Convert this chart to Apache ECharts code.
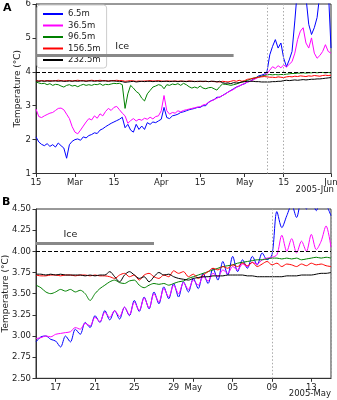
<!DOCTYPE html>
<html lang="en">
<head>
  <meta charset="UTF-8">
  <title>Temperature 2005</title>
  <script src="https://cdn.jsdelivr.net/npm/echarts@6/dist/echarts.min.js"></script>
  <style>
    html, body { margin: 0; padding: 0; background: #fff; }
    #container { width: 337px; height: 400px; }
  </style>
</head>
<body>
  <div id="container"></div>
  <script>
    // panel A: daily values, 2005-02-15 .. 2005-06-01
    const blueA = [2.08, 1.93, 1.86, 1.82, 1.88, 1.80, 1.85, 1.78, 1.90, 1.82,
      1.75, 1.45, 1.85, 1.95, 2.00, 2.02, 1.98, 2.08, 2.05, 2.12,
      2.15, 2.20, 2.18, 2.28, 2.32, 2.38, 2.43, 2.48, 2.52, 2.56,
      2.60, 2.66, 2.35, 2.45, 2.28, 2.22, 2.45, 2.30, 2.40, 2.30,
      2.50, 2.45, 2.52, 2.50, 2.55, 2.60, 2.95, 2.65, 2.62, 2.70,
      2.72, 2.75, 2.80, 2.82, 2.85, 2.88, 2.90, 2.92, 2.95, 2.95,
      3.00, 3.00, 3.10, 3.15, 3.18, 3.25, 3.25, 3.30, 3.35, 3.40,
      3.45, 3.50, 3.55, 3.58, 3.62, 3.65, 3.70, 3.72, 3.78, 3.82,
      3.88, 3.90, 3.93, 4.00, 4.50, 4.75, 4.95, 4.70, 4.85, 4.40,
      4.15, 4.35, 4.60, 5.50, 6.50, 6.90, 6.60, 6.20, 5.40, 5.10,
      5.30, 5.60, 6.30, 6.60, 6.10, 6.50, 4.70];
    const magentaA = [2.90, 2.68, 2.65, 2.70, 2.74, 2.78, 2.80, 2.86, 2.92, 2.93,
      2.88, 2.75, 2.62, 2.38, 2.22, 2.17, 2.28, 2.40, 2.52, 2.62,
      2.58, 2.70, 2.63, 2.76, 2.70, 2.83, 2.92, 2.86, 2.95, 2.98,
      2.88, 2.78, 2.70, 2.48, 2.56, 2.62, 2.55, 2.60, 2.57, 2.63,
      2.60, 2.66, 2.61, 2.68, 2.70, 2.85, 3.30, 2.85, 2.75, 2.80,
      2.78, 2.85, 2.82, 2.86, 2.88, 2.90, 2.92, 2.94, 2.96, 2.97,
      3.02, 3.04, 3.10, 3.14, 3.18, 3.22, 3.26, 3.30, 3.34, 3.40,
      3.44, 3.48, 3.54, 3.58, 3.62, 3.66, 3.70, 3.72, 3.76, 3.80,
      3.84, 3.87, 3.90, 3.94, 4.05, 4.15, 4.10, 4.18, 4.12, 4.20,
      4.14, 4.22, 4.30, 4.55, 4.95, 5.20, 5.30, 4.85, 4.70, 5.00,
      4.55, 4.40, 4.48, 4.60, 4.80, 4.60, 4.55];
    const greenA = [3.70, 3.67, 3.65, 3.66, 3.62, 3.65, 3.60, 3.63, 3.62, 3.58,
      3.55, 3.60, 3.62, 3.58, 3.60, 3.56, 3.60, 3.63, 3.60, 3.62,
      3.60, 3.63, 3.62, 3.65, 3.60, 3.63, 3.62, 3.64, 3.66, 3.65,
      3.66, 3.62, 2.92, 3.35, 3.60, 3.52, 3.42, 3.36, 3.22, 3.14,
      3.35, 3.45, 3.55, 3.58, 3.62, 3.60, 3.50, 3.62, 3.60, 3.64,
      3.62, 3.65, 3.60, 3.66, 3.62, 3.56, 3.52, 3.55, 3.52, 3.58,
      3.52, 3.50, 3.53, 3.54, 3.50, 3.46, 3.56, 3.64, 3.63, 3.62,
      3.60, 3.62, 3.64, 3.67, 3.70, 3.72, 3.75, 3.78, 3.81, 3.83,
      3.85, 3.87, 3.89, 3.91, 3.92, 3.91, 3.92, 3.91, 3.92, 3.92,
      3.93, 3.94, 3.95, 3.95, 3.96, 3.96, 3.97, 3.96, 3.97, 3.97,
      3.98, 3.97, 3.98, 3.98, 3.97, 3.98, 3.97];
    const redA = [3.74, 3.73, 3.74, 3.73, 3.74, 3.74, 3.73, 3.74, 3.75, 3.74,
      3.73, 3.74, 3.74, 3.73, 3.74, 3.75, 3.74, 3.74, 3.73, 3.74,
      3.75, 3.74, 3.74, 3.75, 3.74, 3.74, 3.73, 3.74, 3.74, 3.75,
      3.74, 3.74, 3.72, 3.73, 3.74, 3.73, 3.72, 3.73, 3.72, 3.73,
      3.73, 3.74, 3.73, 3.73, 3.74, 3.73, 3.72, 3.73, 3.73, 3.72,
      3.73, 3.72, 3.73, 3.72, 3.72, 3.73, 3.72, 3.72, 3.71, 3.72,
      3.71, 3.72, 3.71, 3.72, 3.71, 3.71, 3.70, 3.72, 3.71, 3.70,
      3.72, 3.74, 3.72, 3.75, 3.72, 3.74, 3.78, 3.79, 3.81, 3.82,
      3.84, 3.85, 3.86, 3.85, 3.84, 3.84, 3.83, 3.85, 3.84, 3.83,
      3.85, 3.86, 3.85, 3.87, 3.86, 3.88, 3.87, 3.86, 3.88, 3.87,
      3.89, 3.88, 3.87, 3.89, 3.90, 3.89, 3.90];
    const blackA = [3.73, 3.72, 3.73, 3.72, 3.73, 3.72, 3.73, 3.73, 3.72, 3.73,
      3.72, 3.72, 3.73, 3.72, 3.73, 3.72, 3.73, 3.73, 3.72, 3.73,
      3.73, 3.72, 3.73, 3.72, 3.73, 3.73, 3.72, 3.73, 3.73, 3.72,
      3.72, 3.71, 3.69, 3.70, 3.71, 3.72, 3.70, 3.71, 3.72, 3.71,
      3.72, 3.72, 3.71, 3.72, 3.72, 3.71, 3.72, 3.72, 3.71, 3.72,
      3.72, 3.71, 3.72, 3.72, 3.71, 3.72, 3.72, 3.71, 3.72, 3.72,
      3.72, 3.72, 3.71, 3.72, 3.72, 3.70, 3.72, 3.68, 3.66, 3.67,
      3.65, 3.68, 3.67, 3.68, 3.70, 3.71, 3.72, 3.72, 3.72, 3.71,
      3.71, 3.70, 3.70, 3.70, 3.70, 3.71, 3.71, 3.72, 3.72, 3.74,
      3.75, 3.74, 3.75, 3.76, 3.75, 3.76, 3.77, 3.76, 3.77, 3.78,
      3.78, 3.79, 3.79, 3.80, 3.81, 3.82, 3.83];

    // panel B: half-day values, 2005-04-15 00h .. 2005-05-15 00h
    const blueB = [2.93, 2.99, 3.00, 2.96, 2.94, 2.87, 3.00, 2.93, 3.08, 3.02,
      3.16, 3.10, 3.24, 3.16, 3.30, 3.19, 3.30, 3.20, 3.34, 3.24,
      3.42, 3.29, 3.46, 3.32, 3.52, 3.38, 3.58, 3.44, 3.62, 3.46,
      3.64, 3.52, 3.68, 3.56, 3.74, 3.62, 3.80, 3.66, 3.88, 3.72,
      3.94, 3.76, 3.90, 3.80, 3.94, 3.84, 3.98, 3.90, 3.96, 4.47,
      4.28, 4.42, 4.55, 4.40, 4.60, 4.50, 4.65, 4.48, 4.60, 4.55,
      4.42];
    const magentaB = [2.97, 2.98, 3.00, 2.99, 3.02, 3.03, 3.04, 3.05, 3.10, 3.08,
      3.15, 3.12, 3.22, 3.17, 3.28, 3.22, 3.30, 3.23, 3.34, 3.25,
      3.40, 3.30, 3.45, 3.33, 3.50, 3.40, 3.56, 3.46, 3.60, 3.50,
      3.63, 3.55, 3.66, 3.60, 3.70, 3.65, 3.74, 3.70, 3.78, 3.74,
      3.82, 3.78, 3.85, 3.82, 3.87, 3.85, 3.90, 3.92, 3.93, 3.96,
      4.19, 4.00, 4.15, 3.98, 4.12, 4.00, 4.20, 4.02, 4.12, 4.30,
      4.05];
    const greenB = [3.60, 3.57, 3.52, 3.50, 3.52, 3.55, 3.53, 3.55, 3.52, 3.54,
      3.50, 3.42, 3.50, 3.56, 3.60, 3.64, 3.66, 3.63, 3.62, 3.65,
      3.66, 3.60, 3.57, 3.60, 3.62, 3.61, 3.62, 3.60, 3.62, 3.64,
      3.65, 3.68, 3.70, 3.72, 3.74, 3.76, 3.78, 3.80, 3.82, 3.83,
      3.84, 3.86, 3.87, 3.88, 3.89, 3.90, 3.90, 3.91, 3.92, 3.92,
      3.91, 3.92, 3.91, 3.92, 3.90, 3.91, 3.92, 3.93, 3.92, 3.93,
      3.92];
    const redB = [3.72, 3.71, 3.71, 3.72, 3.72, 3.71, 3.72, 3.72, 3.71, 3.72,
      3.72, 3.71, 3.72, 3.71, 3.71, 3.70, 3.68, 3.72, 3.74, 3.70,
      3.72, 3.66, 3.72, 3.74, 3.70, 3.68, 3.72, 3.70, 3.77, 3.74,
      3.76, 3.70, 3.73, 3.68, 3.72, 3.76, 3.80, 3.78, 3.82, 3.80,
      3.84, 3.82, 3.86, 3.83, 3.87, 3.82, 3.85, 3.88, 3.84, 3.86,
      3.82, 3.85, 3.84, 3.82, 3.85, 3.83, 3.86, 3.84, 3.85, 3.83,
      3.82];
    const blackB = [3.73, 3.73, 3.72, 3.73, 3.72, 3.73, 3.72, 3.72, 3.72, 3.72,
      3.71, 3.72, 3.71, 3.72, 3.72, 3.76, 3.70, 3.64, 3.72, 3.76,
      3.72, 3.68, 3.70, 3.64, 3.70, 3.75, 3.72, 3.73, 3.70, 3.68,
      3.67, 3.66, 3.68, 3.69, 3.70, 3.70, 3.71, 3.71, 3.71, 3.72,
      3.72, 3.72, 3.72, 3.71, 3.71, 3.70, 3.70, 3.70, 3.70, 3.70,
      3.70, 3.71, 3.71, 3.71, 3.72, 3.72, 3.72, 3.73, 3.74, 3.74,
      3.75];

    const names = ['6.5m', '36.5m', '96.5m', '156.5m', '232.5m'];
    const colors = ['#0000ff', '#ff00ff', '#008000', '#ff0000', '#000000'];

    const tickDatesA = ['02-15', '03-01', '03-15', '04-01', '04-15', '05-01', '05-15', '06-01'];
    const tickLabelsA = ['15', 'Mar', '15', 'Apr', '15', 'May', '15', 'Jun'];
    const tickDatesB = ['04-17T00', '04-21T00', '04-25T00', '04-29T00', '05-01T00', '05-05T00', '05-09T00', '05-13T00'];
    const tickLabelsB = ['17', '21', '25', '29', 'May', '05', '09', '13'];

    // category lists (one per day / per half day)
    const catsA = blueA.map((v, i) => new Date(Date.UTC(2005, 1, 15 + i)).toISOString().slice(5, 10));
    const catsB = blueB.map((v, i) => new Date(Date.UTC(2005, 3, 15, 12 * i)).toISOString().slice(5, 13));

    const font = 'DejaVu Sans';

    function xAxis(grid, cats, dates, labels) {
      const show = (i, v) => dates.indexOf(v) >= 0;
      return {
        type: 'category', gridIndex: grid, data: cats, boundaryGap: false,
        axisLine: { lineStyle: { color: '#333' } },
        axisTick: { interval: show, length: 3.5, lineStyle: { color: '#333' } },
        axisLabel: {
          interval: show, margin: 5, fontSize: 8.5, color: '#222', fontFamily: font,
          formatter: v => labels[dates.indexOf(v)]
        },
        splitLine: { show: false }
      };
    }
    function yAxis(grid, min, max, step, gap, digits) {
      return {
        type: 'value', gridIndex: grid, min: min, max: max, interval: step,
        name: 'Temperature (\u00b0C)', nameLocation: 'middle', nameGap: gap, nameMoveOverlap: false,
        nameTextStyle: { fontSize: 9, color: '#222', fontFamily: font },
        axisLine: { show: true, lineStyle: { color: '#333' } },
        axisTick: { show: true, length: 3.5, lineStyle: { color: '#333' } },
        axisLabel: { margin: 5, fontSize: 8.5, color: '#222', fontFamily: font, formatter: v => v.toFixed(digits) },
        splitLine: { show: false }
      };
    }
    function line(name, data, color, idx, smooth) {
      return {
        name: name, type: 'line', xAxisIndex: idx, yAxisIndex: idx, data: data,
        symbol: 'none', smooth: smooth, clip: true,
        lineStyle: { color: color, width: 1 }, itemStyle: { color: color }
      };
    }
    function marks(idx, iceFrom, iceTo, iceY, iceText, vlines) {
      const dotted = { type: [1.5, 2], color: '#aaa', width: 1 };
      const ice = { color: '#888', width: 3, type: 'solid' };
      return {
        name: 'marks', type: 'line', xAxisIndex: idx, yAxisIndex: idx, data: [], symbol: 'none',
        markLine: {
          silent: true, symbol: ['none', 'none'], label: { show: false },
          data: [
            { yAxis: 4, lineStyle: { type: [4, 2], color: '#000', width: 1 } },
            ...vlines.map(v => ({ xAxis: v, lineStyle: dotted })),
            [{ coord: [iceFrom, iceY], lineStyle: ice }, { coord: [iceTo, iceY], lineStyle: ice }]
          ]
        },
        markPoint: {
          silent: true, symbolSize: 0,
          data: [{ coord: [iceText, iceY], label: {
            show: true, formatter: 'Ice', position: 'inside', offset: [0, -8],
            fontSize: 9.5, color: '#222', fontFamily: font } }]
        }
      };
    }

    const myChart = echarts.init(document.getElementById('container'));
    const option = {
      animation: false,
      textStyle: { fontFamily: font },
      grid: [
        { left: 36, right: 6, top: 4, height: 169.5, show: true, borderColor: '#333', borderWidth: 1, outerBoundsMode: 'none' },
        { left: 36, right: 6, top: 209, height: 169.3, show: true, borderColor: '#333', borderWidth: 1, outerBoundsMode: 'none' }
      ],
      xAxis: [xAxis(0, catsA, tickDatesA, tickLabelsA), xAxis(1, catsB, tickDatesB, tickLabelsB)],
      yAxis: [yAxis(0, 1, 6, 1, 14, 0), yAxis(1, 2.5, 4.5, 0.25, 26, 2)],
      legend: {
        data: names, orient: 'vertical', left: 37, top: 5,
        itemWidth: 20, itemHeight: 10, itemGap: 1.5, padding: [4, 6, 3, 5],
        backgroundColor: 'rgba(255,255,255,0.8)', borderColor: '#ccc', borderWidth: 1, borderRadius: 3,
        lineStyle: { width: 2 },
        itemStyle: { opacity: 0 },
        textStyle: { fontSize: 8.5, lineHeight: 10, color: '#222', fontFamily: font },
        selectedMode: false
      },
      graphic: [
        { type: 'text', left: 3, top: 3, style: { text: 'A', font: 'bold 11px DejaVu Sans', fill: '#000' } },
        { type: 'text', left: 2, top: 197, style: { text: 'B', font: 'bold 11px DejaVu Sans', fill: '#000' } },
        { type: 'text', right: 3, top: 185, style: { text: '2005-Jun', font: '8.5px DejaVu Sans', fill: '#222' } },
        { type: 'text', right: 6, top: 389, style: { text: '2005-May', font: '8.5px DejaVu Sans', fill: '#222' } }
      ],
      series: [
        marks(0, '02-15', '04-27', 4.5, '03-18', ['05-09', '05-15']),
        line(names[0], blueA, colors[0], 0, false),
        line(names[1], magentaA, colors[1], 0, false),
        line(names[2], greenA, colors[2], 0, false),
        line(names[3], redA, colors[3], 0, false),
        line(names[4], blackA, colors[4], 0, false),
        marks(1, '04-15T00', '04-27T00', 4.1, '04-18T12', ['05-09T00', '05-15T00']),
        line(names[0], blueB, colors[0], 1, 0.3),
        line(names[1], magentaB, colors[1], 1, 0.3),
        line(names[2], greenB, colors[2], 1, 0.3),
        line(names[3], redB, colors[3], 1, 0.3),
        line(names[4], blackB, colors[4], 1, 0.3)
      ]
    };
    myChart.setOption(option);
  </script>
</body>
</html>
